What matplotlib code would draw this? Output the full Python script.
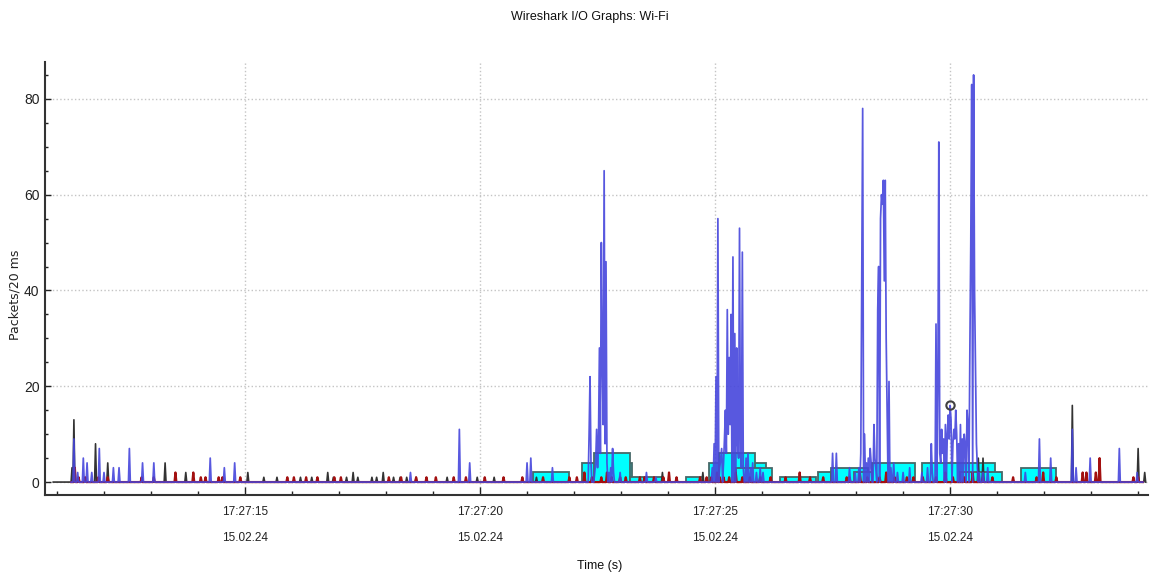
import numpy as np
import matplotlib
matplotlib.use('Agg')
from matplotlib import pyplot as plt
from matplotlib.ticker import MultipleLocator, FixedLocator, FixedFormatter

# 時間は 17:27:00 からの秒数、20 ms 刻み
BIN = 0.02

# 青 (メインの系列) のスパイク: 時刻, 値
blue_t = [11.37, 11.44, 11.56, 11.65, 11.74, 11.91, 12.00, 12.20, 12.32, 12.54, 12.82, 13.06, 14.26, 14.56, 14.79,
          18.51, 19.57, 19.79, 21.00, 21.09, 21.53,
          22.32, 22.34, 22.36, 22.44, 22.46, 22.48, 22.50, 22.52, 22.54, 22.56, 22.58, 22.60, 22.62, 22.64, 22.66,
          22.68, 22.70, 22.74, 22.78, 22.82, 22.84, 22.98, 23.53, 23.74,
          24.95, 24.99, 25.01, 25.03, 25.05, 25.07, 25.11, 25.13, 25.15, 25.17, 25.20, 25.22, 25.24, 25.26, 25.28,
          25.30, 25.32, 25.35, 25.37, 25.39, 25.41, 25.43, 25.46, 25.48, 25.50, 25.52, 25.54, 25.56, 25.59, 25.61,
          25.66, 25.70, 25.76, 25.81, 25.88, 25.96, 26.02,
          27.51, 27.57, 27.85, 27.98, 28.05, 28.10, 28.12, 28.15, 28.17, 28.19, 28.23, 28.27, 28.30, 28.33, 28.37,
          28.40, 28.43, 28.47, 28.49, 28.52, 28.54, 28.56, 28.58, 28.60, 28.62, 28.64, 28.66, 28.69, 28.71, 28.75,
          28.80, 28.88, 29.00, 29.15,
          29.40, 29.52, 29.61, 29.63, 29.69, 29.71, 29.74, 29.76, 29.78, 29.80, 29.82, 29.84, 29.87, 29.89, 29.91,
          29.94, 29.96, 29.98, 30.00, 30.03, 30.05, 30.08, 30.10, 30.13, 30.15, 30.18, 30.21, 30.23, 30.26, 30.30,
          30.33, 30.36, 30.38, 30.41, 30.43, 30.45, 30.47, 30.50, 30.52, 30.54, 30.56, 30.58, 30.62, 30.70, 30.80,
          31.60, 31.89, 32.14, 32.60, 32.68, 32.98, 33.60, 33.99]
blue_v = [9, 2, 5, 4, 2, 7, 2, 3, 3, 7, 4, 4, 5, 3, 4,
          2, 11, 4, 4, 5, 3,
          10, 22, 4, 2, 4, 11, 3, 9, 28, 6, 50, 25, 12, 65, 8,
          46, 4, 2, 3, 7, 2, 2, 2, 1,
          3, 8, 22, 5, 55, 5, 3, 5, 7, 4, 9, 15, 6, 36, 10,
          26, 12, 35, 22, 47, 20, 31, 28, 8, 5, 53, 6, 3, 48, 3,
          5, 6, 3, 4, 2, 3, 2,
          6, 6, 3, 2, 3, 6, 43, 78, 10, 3, 4, 5, 7, 4, 12,
          5, 3, 36, 45, 55, 60, 58, 63, 42, 63, 30, 15, 21, 5, 3,
          4, 2, 2, 3,
          2, 3, 8, 2, 5, 33, 20, 71, 6, 4, 11, 6, 9, 12, 7,
          10, 14, 9, 16, 13, 8, 11, 9, 15, 10, 8, 12, 6, 9, 10,
          8, 15, 12, 27, 22, 50, 83, 85, 40, 23, 8, 3, 2, 2, 3,
          2, 9, 5, 11, 3, 5, 7, 2]

# 黒 (全パケット) が青より高いところ
black_t = [11.31, 11.37, 11.82, 12.09, 13.30, 13.74, 15.05, 15.39, 15.69, 16.17, 16.42, 16.75, 16.88, 17.16,
           17.30, 17.41, 17.69, 17.80, 17.94, 18.16, 18.30, 18.44, 18.65, 19.30, 19.95, 20.30, 21.20, 23.89,
           24.74, 30.60, 30.71, 32.60, 33.99, 34.14]
black_v = [3, 13, 8, 4, 4, 2, 2, 1, 1, 1, 1, 2, 1, 1,
           2, 1, 1, 1, 2, 1, 1, 1, 1, 1, 1, 1, 1, 2,
           2, 5, 5, 16, 7, 2]

# 赤 (エラー系) の小さいスパイク
red_t = [11.38, 11.47, 11.60, 11.88, 12.09, 12.80, 13.05, 13.52, 13.90, 14.06, 14.17, 14.45, 14.53, 14.89,
         15.89, 16.04, 16.30, 16.55, 16.91, 17.04, 18.05, 18.33, 18.65, 18.87, 19.06, 19.45, 19.70, 20.10,
         20.50, 20.89, 21.35, 21.91, 22.05, 22.21, 22.38, 22.59, 22.71, 22.80, 22.98, 23.11, 23.40, 23.51,
         23.69, 23.90, 24.01, 24.19, 24.68, 24.82, 24.93, 25.04, 25.11, 25.19, 25.30, 25.45, 25.59, 25.74,
         25.96, 26.17, 26.50, 26.81, 27.02, 27.30, 27.80, 27.87, 28.09, 28.24, 28.51, 28.65, 28.83, 29.08,
         29.22, 29.43, 29.71, 29.89, 30.06, 30.31, 30.49, 30.70, 30.91, 31.34, 31.84, 31.98, 32.27, 32.82,
         32.91, 33.09, 33.19, 33.90, 34.01]
red_v = [3, 1, 1, 1, 1, 1, 1, 2, 2, 1, 1, 1, 1, 1,
         1, 1, 1, 1, 1, 1, 1, 1, 1, 1, 1, 1, 1, 1,
         1, 1, 1, 1, 1, 2, 1, 1, 2, 1, 1, 1, 1, 1,
         1, 1, 2, 1, 1, 1, 1, 2, 1, 1, 1, 2, 1, 1,
         1, 1, 1, 2, 1, 1, 1, 1, 2, 1, 1, 2, 1, 1,
         1, 1, 1, 2, 1, 1, 2, 1, 1, 1, 1, 2, 1, 2,
         2, 2, 5, 1, 1]

# シアンの棒 (開始, 終了, 高さ)
bar_start = [21.13, 22.17, 22.43, 23.19, 24.38, 24.87, 25.09, 25.45, 26.38, 27.18, 27.46, 27.96, 28.33, 29.40, 30.21, 31.50]
bar_end = [21.89, 23.23, 23.19, 23.89, 24.74, 26.09, 25.85, 26.21, 27.15, 27.46, 28.26, 28.45, 29.26, 30.96, 31.10, 32.26]
bar_h = [2, 4, 6, 1, 1, 4, 6, 3, 1, 2, 3, 2, 4, 4, 2, 3]

# トレーサーの丸
tracer_t, tracer_v = 30.00, 16

x_ticks = [15, 20, 25, 30]
x_labels = ['17:27:15\n15.02.24', '17:27:20\n15.02.24', '17:27:25\n15.02.24', '17:27:30\n15.02.24']


def build_series(t0, t1, spike_t, spike_v):
    # 20 ms のビンに並べる (スパイク以外は 0)
    n = int(round((t1 - t0) / BIN)) + 1
    t = t0 + np.arange(n) * BIN
    v = np.zeros(n)
    idx = np.round((np.array(spike_t) - t0) / BIN).astype(int)
    np.maximum.at(v, idx, np.array(spike_v, dtype=float))
    return t, v


narrow = ['Liberation Sans Narrow', 'Liberation Sans', 'DejaVu Sans']

fig = plt.figure(figsize=(11.52, 5.79), dpi=100)
ax = fig.add_axes([45 / 1152, 84 / 579, 1103 / 1152, 433 / 579])

# 棒
for s, e, h in zip(bar_start, bar_end, bar_h):
    ax.bar(s, h, width=e - s, align='edge', color='#00ffff', edgecolor='#466868', linewidth=1.3, zorder=1)

tb, vb = build_series(10.92, 34.16, black_t, black_v)
ax.plot(tb, vb, color='#333333', linewidth=1.2, zorder=2)
tr, vr = build_series(11.30, 34.10, red_t, red_v)
ax.plot(tr, vr, color='#a31010', linewidth=1.6, zorder=3)
tl, vl = build_series(11.30, 34.10, blue_t, blue_v)
ax.plot(tl, vl, color='#4646dc', linewidth=1.25, alpha=0.9, zorder=4)

ax.plot([tracer_t], [tracer_v], marker='o', markersize=6, markerfacecolor='none',
        markeredgecolor='#404040', markeredgewidth=1.5, zorder=5)

ax.set_xlim(10.745, 34.21)
ax.set_ylim(-2.7, 87.7)

ax.xaxis.set_major_locator(FixedLocator(x_ticks))
ax.xaxis.set_major_formatter(FixedFormatter(x_labels))
ax.xaxis.set_minor_locator(MultipleLocator(1))
ax.yaxis.set_major_locator(MultipleLocator(20))
ax.yaxis.set_minor_locator(MultipleLocator(5))

ax.tick_params(axis='x', which='major', direction='in', length=6, width=1, pad=8, colors='#222222')
ax.tick_params(axis='x', which='minor', direction='in', length=3, width=1, colors='#222222')
ax.tick_params(axis='y', which='major', direction='in', length=4, width=1, pad=4, colors='#222222')
ax.tick_params(axis='y', which='minor', direction='in', length=2, width=1, colors='#222222')
for lab in ax.get_xticklabels():
    lab.set_family(narrow)
    lab.set_fontsize(8.5)
    lab.set_linespacing(2.5)
for lab in ax.get_yticklabels():
    lab.set_family(narrow)
    lab.set_fontsize(10)

ax.grid(True, which='major', linestyle=':', color='#c4c4c4', linewidth=1)
ax.set_axisbelow(True)

for side in ['top', 'right']:
    ax.spines[side].set_visible(False)
for side in ['left', 'bottom']:
    ax.spines[side].set_color('#333333')
    ax.spines[side].set_linewidth(1.5)

fig.text(590 / 1152, 1 - 17 / 579, 'Wireshark I/O Graphs: Wi-Fi', ha='center', va='center',
         family=narrow, fontsize=9, color='#111111')
fig.text(600 / 1152, 1 - 566 / 579, 'Time (s)', ha='center', va='center',
         family=narrow, fontsize=9, color='#111111')
fig.text(15 / 1152, 1 - 295 / 579, 'Packets/20 ms', ha='center', va='center', rotation=90,
         family='DejaVu Sans', fontsize=9, color='#222222')

fig.savefig('out.png', dpi=100)
